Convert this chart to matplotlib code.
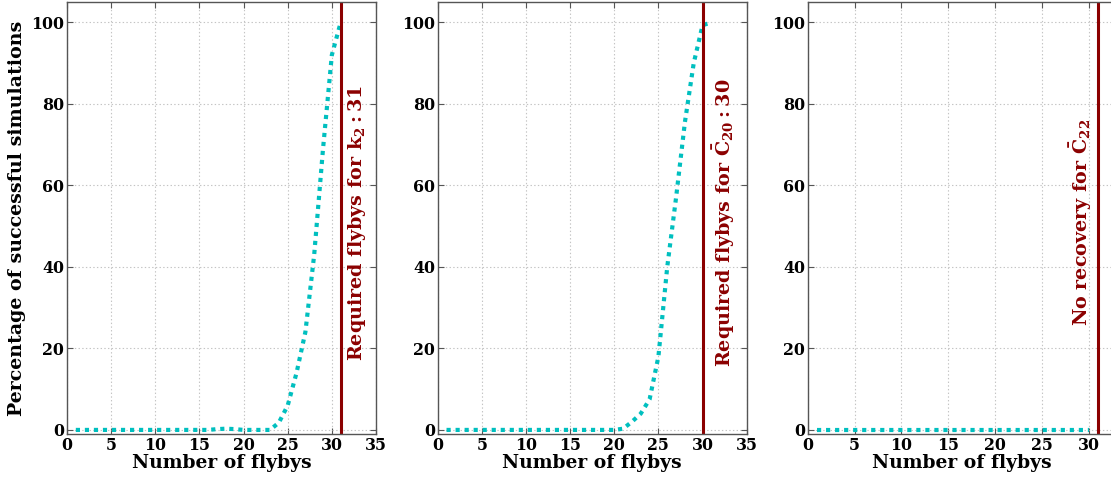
import matplotlib
matplotlib.use("Agg")
import matplotlib.pyplot as plt
import numpy as np

plt.rcParams['font.family'] = ['DejaVu Serif']
plt.rcParams['font.weight'] = 'bold'
plt.rcParams['mathtext.fontset'] = 'dejavuserif'
plt.rcParams['mathtext.default'] = 'bf'
plt.rcParams['lines.scale_dashes'] = False

flybys = list(range(1, 32))
flybys3 = list(range(1, 31))
pct_k2 = [0, 0, 0, 0, 0, 0, 0, 0, 0, 0, 0, 0, 0, 0, 0, 0, 0.2, 0.3, 0.2, 0, 0, 0, 0,
          1.8, 6, 14, 24, 43, 69, 92, 100]
pct_c20 = [0, 0, 0, 0, 0, 0, 0, 0, 0, 0, 0, 0, 0, 0, 0, 0, 0, 0, 0, 0, 0.3,
           2, 4, 7.5, 18, 40, 57, 75.5, 90, 99.3, 100]
pct_c22 = [0] * 30

required = [31, 30, 31]
labels = [r'Required flybys for $\mathbf{k_2:31}$',
          r'Required flybys for $\mathbf{\bar{C}_{20}:30}$',
          r'No recovery for $\mathbf{\bar{C}_{22}}$']
xlims = [35, 35, 33]
text_pos = [(32.8, 17), (32.4, 15.5), (29.2, 25.5)]

W, H = 1111, 483
fig = plt.figure(figsize=(W / 100, H / 100), dpi=100)
lefts = [67, 437.7, 807.7]
aw = 309
bottom = 1 - 434 / H
top = 1 - 2 / H

series = [(flybys, pct_k2), (flybys, pct_c20), (flybys3, pct_c22)]
red = '#8b0000'
for i in range(3):
    ax = fig.add_axes([lefts[i] / W, bottom, aw / W, top - bottom])
    xs, ys = series[i]
    ln, = ax.plot(xs, ys, color='#00bfbf', linewidth=3, dash_capstyle='butt')
    ln.set_dashes([3.0, 3.5])
    ax.axvline(required[i], color=red, linewidth=2.2)
    ax.text(text_pos[i][0], text_pos[i][1], labels[i], rotation=90, color=red,
            ha='center', va='bottom', fontsize=13.8, fontweight='bold')
    ax.set_xlim(0, xlims[i])
    ax.set_ylim(-1, 105)
    ax.set_xticks(np.arange(0, xlims[i] + 0.1, 5))
    ax.set_yticks(np.arange(0, 101, 20))
    ax.grid(True, linestyle=':', color='#c4c4c4', linewidth=0.8)
    ax.tick_params(direction='in', length=4, color='#555555', labelsize=11.4,
                   top=True, right=True, pad=2)
    for lab in ax.get_xticklabels() + ax.get_yticklabels():
        lab.set_fontweight('bold')
    for s in ax.spines.values():
        s.set_color('#555555')
        s.set_linewidth(1.0)
    ax.set_xlabel('Number of flybys', fontsize=13.5, fontweight='bold', labelpad=0)
    if i == 0:
        ax.set_ylabel('Percentage of successful simulations', fontsize=13.7,
                      fontweight='bold', labelpad=4)

fig.savefig('out.png', dpi=100)
